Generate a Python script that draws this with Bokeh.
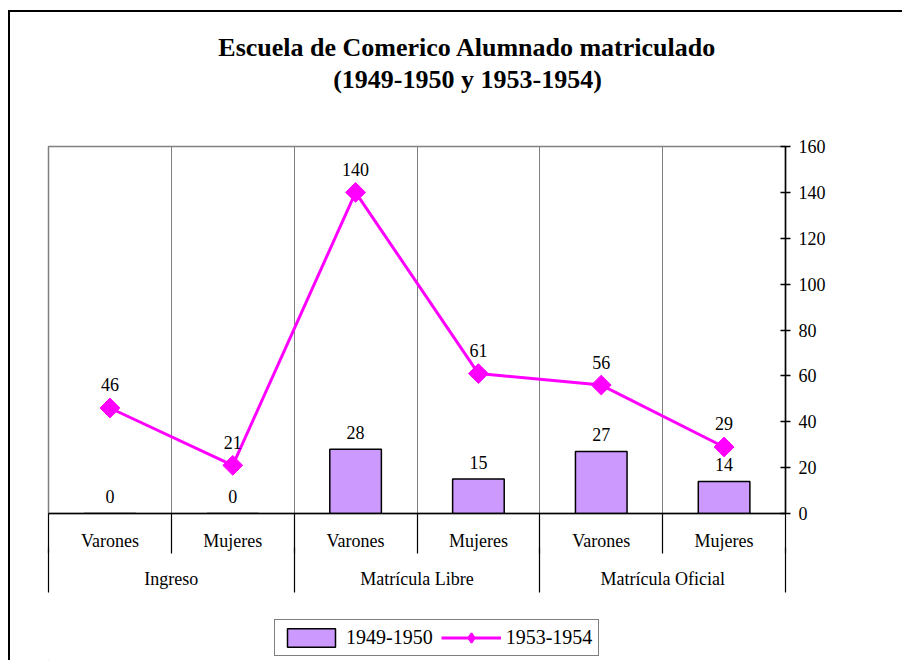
import numpy as np
from bokeh.plotting import figure
from bokeh.layouts import column
from bokeh.models import (ColumnDataSource, FixedTicker, LinearAxis, LabelSet,
                          Legend, LegendItem, Range1d)
from bokeh.core.properties import value
from bokeh.embed import file_html
from bokeh.resources import INLINE

# ---- data ----
groups = ["Ingreso", "Matrícula Libre", "Matrícula Oficial"]
subcats = ["Varones", "Mujeres", "Varones", "Mujeres", "Varones", "Mujeres"]
series_1949 = [0, 0, 28, 15, 27, 14]
series_1953 = [46, 21, 140, 61, 56, 29]
y_ticks = [0, 20, 40, 60, 80, 100, 120, 140, 160]
title_lines = ["Escuela de Comerico Alumnado matriculado", "(1949-1950 y 1953-1954)"]
legend_names = ["1949-1950", "1953-1954"]

FONT = "Liberation Serif"
FS = "18px"
n = len(subcats)
per_group = n // len(groups)
xc = [i + 0.5 for i in range(n)]
group_centers = [g * per_group + per_group / 2 for g in range(len(groups))]
group_bounds = [g * per_group for g in range(len(groups) + 1)]
all_bounds = list(range(n + 1))

W = 892
H_TITLE, H_MAIN, H_LEG = 120, 468, 60
FL, FR, FT, FB = 38, 117, 14, 87
FRAME_W = W - FL - FR


def strip(h):
    # helper figure whose frame is aligned with the main chart frame (column layout)
    f = figure(width=W, height=h, output_backend="svg", toolbar_location=None,
               x_range=Range1d(0, FRAME_W), y_range=Range1d(0, h),
               x_axis_type=None, y_axis_type=None,
               min_border_left=FL, min_border_right=FR,
               min_border_top=0, min_border_bottom=0)
    f.grid.visible = False
    f.outline_line_color = None
    f.background_fill_color = "white"
    f.border_fill_color = "white"
    return f


# ---- title strip ----
pt = strip(H_TITLE)
pt.text(x=[419, 419], y=[H_TITLE - 35, H_TITLE - 67], text=title_lines,
        text_align="center", text_baseline="middle", text_font=value(FONT),
        text_font_size="26px", text_font_style="bold", text_color="black")

# ---- main chart ----
p = figure(width=W, height=H_MAIN, output_backend="svg", toolbar_location=None,
           x_range=Range1d(0, n), y_range=Range1d(0, y_ticks[-1]),
           y_axis_location="right", min_border_left=FL, min_border_right=FR,
           min_border_top=FT, min_border_bottom=FB)
p.background_fill_color = "white"
p.border_fill_color = "white"
p.outline_line_color = "#808080"
p.outline_line_width = 1.5
p.ygrid.visible = False
p.xgrid.ticker = FixedTicker(ticks=list(range(1, n)))
p.xgrid.grid_line_color = "#808080"
p.xgrid.grid_line_width = 1

# x axis A (sub-category labels + short separators)
xa = p.xaxis[0]
xa.ticker = FixedTicker(ticks=xc, minor_ticks=all_bounds)
xa.major_label_overrides = {x: s for x, s in zip(xc, subcats)}
xa.major_tick_out = 0
xa.major_tick_in = 0
xa.minor_tick_out = 40
xa.minor_tick_in = 0
xa.minor_tick_line_color = "black"
xa.minor_tick_line_width = 1.2
xa.axis_line_color = "black"
xa.axis_line_width = 1.5
xa.major_label_standoff = -23
xa.major_label_text_font = FONT
xa.major_label_text_font_size = FS
xa.major_label_text_color = "black"

# x axis B (group labels + long separators)
HA = 38
xb = LinearAxis(ticker=FixedTicker(ticks=group_centers, minor_ticks=group_bounds),
                major_label_overrides={x: s for x, s in zip(group_centers, groups)},
                major_tick_out=0, major_tick_in=0,
                minor_tick_in=6, minor_tick_out=77 - HA,
                minor_tick_line_color="black", minor_tick_line_width=1.2,
                axis_line_color=None, major_label_standoff=-24,
                major_label_text_font=FONT, major_label_text_font_size=FS,
                major_label_text_color="black")
p.add_layout(xb, "below")

# y axis on right
ya = p.yaxis[0]
ya.ticker = FixedTicker(ticks=y_ticks)
ya.minor_tick_line_color = None
ya.major_tick_in = 5
ya.major_tick_out = 5
ya.major_tick_line_color = "black"
ya.major_tick_line_width = 1.5
ya.axis_line_color = "black"
ya.axis_line_width = 1.5
ya.major_label_standoff = 8
ya.major_label_text_font = FONT
ya.major_label_text_font_size = FS
ya.major_label_text_color = "black"

src = ColumnDataSource(dict(x=xc, a=series_1949, b=series_1953,
                            al=[str(v) for v in series_1949],
                            bl=[str(v) for v in series_1953]))

BAR = dict(fill_color="#CC99FF", line_color="black", line_width=1.5)
LINE = dict(line_color="#FF00FF", line_width=3)
MARK = dict(marker="square", angle=np.pi / 4, size=14, fill_color="#FF00FF",
            line_color="#FF00FF")

p.vbar(x="x", top="a", width=0.42, bottom=0, source=src, **BAR)
p.line(x="x", y="b", source=src, **LINE)
p.scatter(x="x", y="b", source=src, **MARK)

p.add_layout(LabelSet(x="x", y="a", text="al", source=src, y_offset=17,
                      text_align="center", text_baseline="middle",
                      text_font=FONT, text_font_size=FS, text_color="black"))
p.add_layout(LabelSet(x="x", y="b", text="bl", source=src, y_offset=23,
                      text_align="center", text_baseline="middle",
                      text_font=FONT, text_font_size=FS, text_color="black"))

# ---- legend strip (swatches come from off-screen stand-in renderers) ----
pl = strip(H_LEG)
stand_in = ColumnDataSource(dict(x=[-1000.0], y=[-1000.0]))
r_bar = pl.vbar(x="x", top="y", width=1, source=stand_in, **BAR)
r_line = pl.line(x="x", y="y", source=stand_in, **LINE)
r_mark = pl.scatter(x="x", y="y", source=stand_in, marker="diamond", size=14,
                    fill_color="#FF00FF", line_color="#FF00FF", line_width=2)
legend = Legend(items=[LegendItem(label=legend_names[0], renderers=[r_bar]),
                       LegendItem(label=legend_names[1], renderers=[r_line, r_mark])],
                location=(226, 4), orientation="horizontal",
                label_text_font=FONT, label_text_font_size="20px",
                label_text_color="black",
                glyph_width=60, glyph_height=23, padding=6, spacing=8,
                label_standoff=5, border_line_color="black", border_line_width=1,
                background_fill_color="white", background_fill_alpha=1, margin=0)
pl.add_layout(legend, "center")

layout = column(pt, p, pl, spacing=0,
                styles={"margin-left": "8px", "margin-top": "10px",
                        "border-left": "2px solid black", "border-top": "2px solid black"})

open("out.html", "w").write(file_html(layout, INLINE))
